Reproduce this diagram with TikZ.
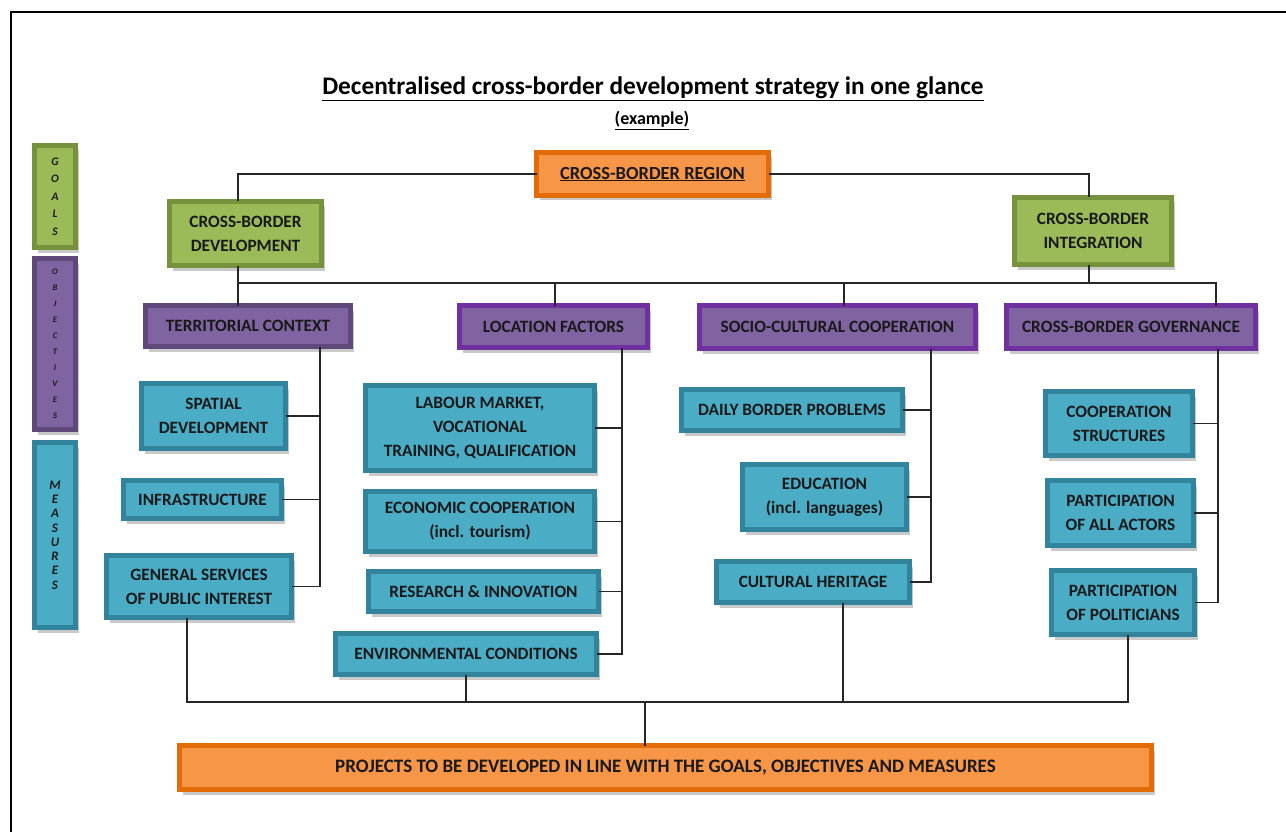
\documentclass[tikz,border=0pt]{standalone}
\usepackage{fontspec}
\setmainfont{Carlito}
\usetikzlibrary{shadows,calc}
\definecolor{grF}{HTML}{9BBB59}\definecolor{grB}{HTML}{76923C}
\definecolor{puF}{HTML}{8064A2}\definecolor{puB}{HTML}{5F497A}\definecolor{puV}{HTML}{7030A0}
\definecolor{teF}{HTML}{4BACC6}\definecolor{teB}{HTML}{31849B}
\definecolor{orF}{HTML}{F79646}\definecolor{orB}{HTML}{E36C09}
\tikzset{
  box/.style={draw, line width=5pt, inner sep=1pt, outer sep=0pt, align=center,
    font=\fontsize{17.3}{24}\selectfont\bfseries, text=black!90,
    drop shadow={shadow xshift=3pt, shadow yshift=-5pt, fill=black!30, opacity=0.7}},
  green/.style={box, fill=grF, draw=grB},
  purp/.style={box, fill=puF, draw=puB},
  purv/.style={box, fill=puF, draw=puV},
  teal/.style={box, fill=teF, draw=teB},
  orng/.style={box, fill=orF, draw=orB},
  conn/.style={draw=black!85, line width=1.1pt}
}
\newcommand\Bx[7]{\node[#2, minimum width={#5-#3-5}, minimum height={#6-#4-5}] (#1) at ({(#3+#5)/2},{(#4+#6)/2}) {#7};}
\begin{document}
\begin{tikzpicture}[x=1pt,y=-1pt]
\useasboundingbox (0,0) rectangle (1286,832);
\draw[line width=2pt] (11,832) -- (11,12) -- (1286,12);
% title
\node[anchor=base, font=\fontsize{25.3}{30}\selectfont\bfseries] (title) at (653,95) {\underline{Decentralised cross-border development strategy in one glance}};
\node[anchor=base, font=\fontsize{18}{22}\selectfont\bfseries] (ex) at (652,125) {\underline{(example)}};
% side bars
\Bx{goals}{green, font=\fontsize{11.5}{17.5}\selectfont\bfseries\itshape}{32}{143}{78}{250}{G\\O\\A\\L\\S}
\Bx{objs}{purp, font=\fontsize{8.5}{16}\selectfont\bfseries\itshape}{32}{256}{78}{432}{O\\B\\J\\E\\C\\T\\I\\V\\E\\S}
\Bx{meas}{teal, font=\fontsize{13}{14.3}\selectfont\bfseries\itshape}{32}{440}{78}{630}{M\\E\\A\\S\\U\\R\\E\\S}
% top
\Bx{region}{orng, font=\fontsize{18.5}{24}\selectfont\bfseries}{534}{150}{771}{198}{\underline{CROSS-BORDER REGION}}
\Bx{dev}{green}{167}{199}{324}{268}{CROSS-BORDER\\DEVELOPMENT}
\Bx{integ}{green}{1012}{195}{1174}{267}{CROSS-BORDER\\INTEGRATION}
% objectives
\Bx{terr}{purp}{143}{303}{353}{349}{TERRITORIAL CONTEXT}
\Bx{loc}{purv}{457}{303}{650}{350}{LOCATION FACTORS}
\Bx{socio}{purv}{697}{303}{978}{351}{SOCIO-CULTURAL COOPERATION}
\Bx{gov}{purv}{1004}{303}{1258}{351}{CROSS-BORDER GOVERNANCE}
% measures
\Bx{spatial}{teal}{139}{381}{288}{451}{SPATIAL\\DEVELOPMENT}
\Bx{infra}{teal}{121}{478}{284}{521}{INFRASTRUCTURE}
\Bx{general}{teal}{104}{553}{294}{620}{GENERAL SERVICES\\OF PUBLIC INTEREST}
\Bx{labour}{teal}{363}{383}{597}{473}{LABOUR MARKET,\\VOCATIONAL\\TRAINING, QUALIFICATION}
\Bx{econ}{teal}{363}{489}{597}{554}{ECONOMIC COOPERATION\\(incl. tourism)}
\Bx{research}{teal}{366}{569}{601}{614}{RESEARCH \& INNOVATION}
\Bx{env}{teal}{333}{631}{599}{677}{ENVIRONMENTAL CONDITIONS}
\Bx{daily}{teal}{679}{387}{905}{433}{DAILY BORDER PROBLEMS}
\Bx{edu}{teal}{740}{462}{909}{532}{EDUCATION\\(incl. languages)}
\Bx{cultural}{teal}{714}{559}{912}{605}{CULTURAL HERITAGE}
\Bx{coop}{teal}{1043}{389}{1195}{458}{COOPERATION\\STRUCTURES}
\Bx{actors}{teal}{1045}{478}{1196}{548}{PARTICIPATION\\OF ALL ACTORS}
\Bx{polit}{teal}{1049}{568}{1197}{637}{PARTICIPATION\\OF POLITICIANS}
\Bx{projects}{orng, font=\fontsize{19}{24}\selectfont\bfseries}{177}{743}{1154}{792}{PROJECTS TO BE DEVELOPED IN LINE WITH THE GOALS, OBJECTIVES AND MEASURES}
% connector coordinates
\coordinate (lx) at (238,283);
\coordinate (rx) at (1089,283);
\coordinate (lo) at (555,283);
\coordinate (so) at (844,283);
\coordinate (gx) at (1216,283);
\coordinate (tb) at (320,0);
\coordinate (lb) at (622,0);
\coordinate (sb) at (931,0);
\coordinate (gb) at (1218,0);
\coordinate (b1) at (187,702);
\coordinate (b2) at (466,702);
\coordinate (b3) at (843,702);
\coordinate (b4) at (1128,702);
\coordinate (b5) at (645,702);
% top connectors
\draw[conn] (region.west) -| (dev.north -| lx);
\draw[conn] (region.east) -| (integ.north -| rx);
\draw[conn] (dev.south -| lx) -- (terr.north -| lx);
\draw[conn] (lx) -- (gx) -- (gov.north -| gx);
\draw[conn] (integ.south -| rx) -- (rx);
\draw[conn] (lo) -- (loc.north -| lo);
\draw[conn] (so) -- (socio.north -| so);
% territorial
\draw[conn] (terr.south -| tb) -- (tb |- general.east) -- (general.east);
\draw[conn] (spatial.east) -- (spatial.east -| tb);
\draw[conn] (infra.east) -- (infra.east -| tb);
% location
\draw[conn] (loc.south -| lb) -- (lb |- env.east) -- (env.east);
\draw[conn] (labour.east) -- (labour.east -| lb);
\draw[conn] (econ.east) -- (econ.east -| lb);
\draw[conn] (research.east) -- (research.east -| lb);
% socio
\draw[conn] (socio.south -| sb) -- (sb |- cultural.east) -- (cultural.east);
\draw[conn] (daily.east) -- (daily.east -| sb);
\draw[conn] (edu.east) -- (edu.east -| sb);
% governance
\draw[conn] (gov.south -| gb) -- (gb |- polit.east) -- (polit.east);
\draw[conn] (coop.east) -- (coop.east -| gb);
\draw[conn] (actors.east) -- (actors.east -| gb);
% bottom
\draw[conn] (general.south -| b1) -- (b1) -- (b4) -- (polit.south -| b4);
\draw[conn] (env.south -| b2) -- (b2);
\draw[conn] (cultural.south -| b3) -- (b3);
\draw[conn] (b5) -- (projects.north -| b5);
\end{tikzpicture}
\end{document}
